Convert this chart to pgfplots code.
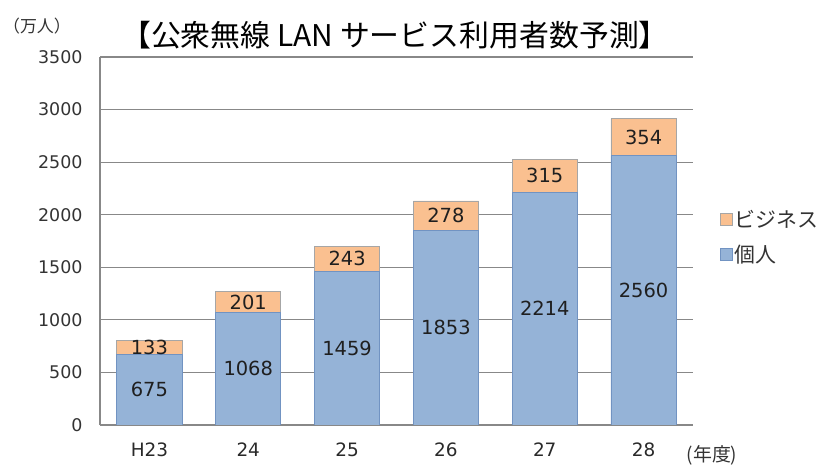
\documentclass[border=0pt]{standalone}
\usepackage{fontspec}
\setmainfont{Noto Sans CJK JP}
\newfontfamily\numfont{DejaVu Sans}
\usepackage{pgfplots}
\usepackage{pgfplotstable}
\pgfplotsset{compat=1.18}

\definecolor{bizorange}{HTML}{FAC090}
\definecolor{bizedge}{HTML}{A6A6A6}
\definecolor{persblue}{HTML}{95B3D7}
\definecolor{persedge}{HTML}{7193C2}
\definecolor{gridgray}{HTML}{888888}
\definecolor{labelgray}{HTML}{333333}

% 年度, 個人, ビジネス (万人)
\pgfplotstableread{
x pers biz
0 675  133
1 1068 201
2 1459 243
3 1853 278
4 2214 315
5 2560 354
}\usersdata

\begin{document}
\begin{tikzpicture}
\useasboundingbox (0,0) rectangle (838bp,466bp);

\pgfplotsset{
  base/.style={
    at={(100bp,41bp)}, anchor=south west,
    scale only axis, width=593bp, height=368bp,
    xmin=-0.5, xmax=5.5, ymin=0, ymax=3500,
    xtick={0,...,5},
    xticklabels={H23,24,25,26,27,28},
    ytick={0,500,...,3500},
    major tick length=0pt,
    /pgf/number format/assume math mode=true,
    /pgf/number format/1000 sep={},
  },
}

\begin{axis}[
  base,
  ybar stacked, bar width=0.66,
  axis x line*=bottom, axis y line*=left,
  axis line style={gridgray, line width=1.2bp},
  ymajorgrids, grid style={gridgray, line width=1.2bp},
  yticklabel style={font=\numfont\fontsize{17.5}{20}\selectfont, text=labelgray, xshift=-14bp},
  xticklabel style={font=\numfont\fontsize{18.5}{21}\selectfont, text=labelgray!80!black, yshift=-14bp},
  legend style={at={(1.045,0.51)}, anchor=west, draw=none, fill=none,
    font=\fontsize{21}{24}\selectfont, text=labelgray,
    row sep=12bp, inner sep=0pt},
  legend cell align=left,
  reverse legend,
  legend image code/.code={\draw[#1] (0bp,-6bp) rectangle (12bp,6bp);},
]
\addplot[fill=persblue, draw=persedge, line width=0.8bp]
  table[x=x, y=pers] {\usersdata};
\addlegendentry{個人}
\addplot[fill=bizorange, draw=bizedge, line width=0.8bp]
  table[x=x, y=biz] {\usersdata};
\addlegendentry{ビジネス}
\end{axis}

% value labels at the middle of each segment
\begin{axis}[
  base, hide axis,
  nodes near coords, point meta=explicit,
  nodes near coords align=center,
  every node near coord/.append style={font=\numfont\fontsize{19.5}{22}\selectfont, text=labelgray!60!black},
]
\addplot[draw=none, mark=none]
  table[x=x, y expr=\thisrow{pers}/2, meta=pers] {\usersdata};
\addplot[draw=none, mark=none]
  table[x=x, y expr=\thisrow{pers}+\thisrow{biz}/2, meta=biz] {\usersdata};
\end{axis}

\node[font=\fontsize{30}{36}\selectfont] at (395bp,431bp) {【公衆無線 LAN サービス利用者数予測】};
\node[font=\fontsize{17}{20}\selectfont, text=labelgray] at (37bp,440bp) {（万人）};
\node[font=\fontsize{19}{22}\selectfont, text=labelgray] at (712bp,11bp) {(年度)};
\end{tikzpicture}
\end{document}
